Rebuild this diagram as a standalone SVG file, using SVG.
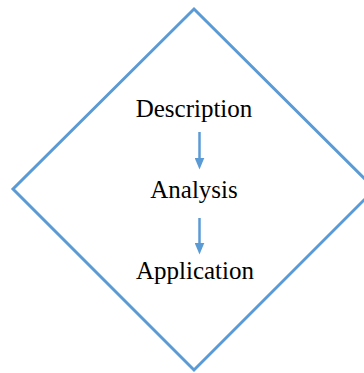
<svg xmlns="http://www.w3.org/2000/svg" width="364" height="373" viewBox="0 0 364 373">
<style>
.lbl{font-family:"Liberation Serif","Times New Roman",serif;font-size:25px;fill:#000;text-anchor:middle}
.conn{stroke:#5B9BD5;stroke-width:2.5;fill:none;marker-end:url(#ah)}
</style>
<defs>
<marker id="ah" markerWidth="12" markerHeight="10" refX="0.5" refY="5" orient="auto" markerUnits="userSpaceOnUse" viewBox="0 0 12 10">
<polygon points="0,0 12,5 0,10" fill="#5B9BD5"/>
</marker>
</defs>
<rect width="364" height="373" fill="#fff"/>
<g id="diamond">
<polygon points="194,9 375,189 194,370 13,189" fill="none" stroke="#5B9BD5" stroke-width="3"/>
</g>
<g id="description"><text class="lbl" x="194" y="117">Description</text></g>
<g id="analysis"><text class="lbl" x="194" y="198">Analysis</text></g>
<g id="application"><text class="lbl" x="195" y="279">Application</text></g>
<g id="connectors">
<path class="conn" d="M199.5,132 V158"/>
<path class="conn" d="M199.5,218 V243"/>
</g>
</svg>
